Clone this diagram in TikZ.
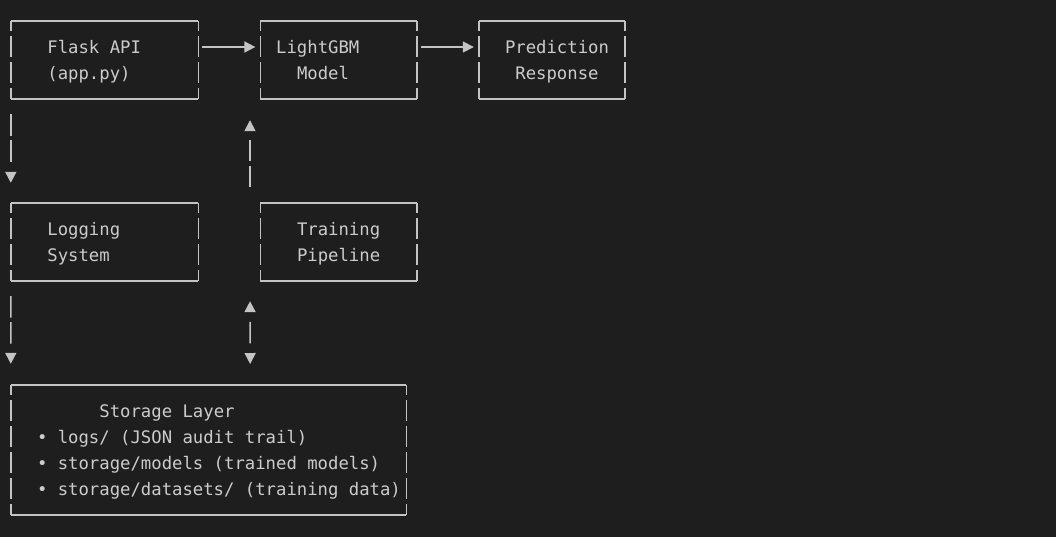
\documentclass[tikz,border=0pt]{standalone}
\usepackage{fontspec}
\usepackage{tikz}
\usepackage{xcolor}
\usetikzlibrary{arrows.meta}

\newfontfamily\asciifont{DejaVu Sans Mono}
\definecolor{bgc}{HTML}{1E1E1E}
\definecolor{txtc}{HTML}{CCCCCC}
\definecolor{linec}{HTML}{C4C4C4}
\newlength{\chw}
\setlength{\chw}{10.4pt}
\newcommand{\ind}[1]{\rule[-7pt]{0pt}{26pt}\hspace*{#1\chw}}

% frame of a box, drawn like box-drawing characters
\newcommand{\asciiframe}[1]{%
	\draw[frame] (#1.north west) -- (#1.north east);
	\draw[frame] (#1.south west) -- (#1.south east);
	\draw[frame,side] (#1.north west) -- (#1.south west);
	\draw[frame,side] (#1.north east) -- (#1.south east);}

\begin{document}
\begin{tikzpicture}[x=10.4pt,y=-26pt,
		box/.style={font=\asciifont\fontsize{17.27pt}{26pt}\selectfont,text=txtc,
			inner xsep=0pt,inner ysep=0pt,align=left,minimum height=78pt,
			execute at begin node={\spaceskip=\chw\xspaceskip=\chw}},
		frame/.style={draw=linec,line width=1.6pt},
		side/.style={dash pattern=on 21.5pt off 4.5pt,dash phase=11pt},
		hlink/.style={draw=linec,line width=1.6pt,-{Triangle[length=11pt,width=11pt]},
			shorten <=4pt,shorten >=5pt},
		vlink/.style={draw=linec,line width=1.6pt,dash pattern=on 21.5pt off 4.5pt on 21.5pt off 40pt},
		tipd/.style={-{Triangle[length=11pt,width=11pt]}}]
	\fill[bgc] (-1.0577,-0.8077) rectangle (100.48,19.846);
	
	\node[box,text width=187.2pt] (flask) at (9,1.5)
		{\ind{3.5}Flask API\\\ind{3.5}(app.py)};
	\node[box,text width=156pt] (lightgbm) at (31.5,1.5)
		{\ind{1.5}LightGBM\\\ind{3.5}Model};
	\node[box,text width=145.6pt] (predict) at (52,1.5)
		{\ind{2.5}Prediction\\\ind{3.5}Response};
	\node[box,text width=187.2pt] (logging) at (9,8.5)
		{\ind{3.5}Logging\\\ind{3.5}System};
	\node[box,text width=156pt] (training) at (31.5,8.5)
		{\ind{3.5}Training\\\ind{3.5}Pipeline};
	\node[box,text width=395.2pt,minimum height=130pt] (storage) at (19,16.5)
		{\ind{8.5}Storage Layer\\
		 \ind{2.5}• logs/ (JSON audit trail)\\
		 \ind{2.5}• storage/models (trained models)\\
		 \ind{2.5}• storage/datasets/ (training data)};
	
	\foreach \b in {flask,lightgbm,predict,logging,training,storage}{
		\asciiframe{\b}
	}
	
	\coordinate (gate) at (23,14);
	
	\draw[hlink] ([yshift=13pt]flask.east) -- ([yshift=13pt]lightgbm.west);
	\draw[hlink] ([yshift=13pt]lightgbm.east) -- ([yshift=13pt]predict.west);
	
	\draw[vlink,tipd,shorten <=15pt,shorten >=20pt] (flask.south west) -- (logging.north west);
	\draw[vlink,tipd,shorten <=15.5pt,shorten >=21pt]
		([xshift=-10.4pt]training.north west) -- ([xshift=-10.4pt]lightgbm.south west);
	\draw[vlink,tipd,shorten <=15pt,shorten >=21pt] (logging.south west) -- (storage.north west);
	\draw[draw=linec,line width=1.6pt,dash pattern=on 0pt off 10pt on 21.5pt off 40pt,
		{Triangle[length=11pt,width=11pt]}-{Triangle[length=11pt,width=11pt]},
		shorten <=20pt,shorten >=21pt] ([xshift=-10.4pt]training.south west) -- (gate);
\end{tikzpicture}
\end{document}
